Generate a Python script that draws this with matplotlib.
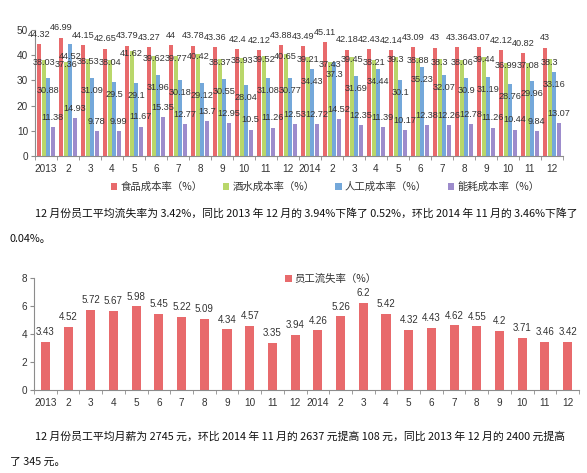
import matplotlib
matplotlib.use("Agg")
import matplotlib.pyplot as plt
import numpy as np
from matplotlib.patches import Patch

plt.rcParams['font.family'] = ['Noto Sans CJK SC', 'DejaVu Sans']

months = ["2013", "2", "3", "4", "5", "6", "7", "8", "9", "10", "11", "12",
          "2014", "2", "3", "4", "5", "6", "7", "8", "9", "10", "11", "12"]

food = [44.32, 46.99, 44.15, 42.65, 43.79, 43.27, 44, 43.78, 43.36, 42.4, 42.12, 43.88,
        43.49, 45.11, 42.18, 42.43, 42.14, 43.09, 43, 43.36, 43.07, 42.12, 40.82, 43]
drinks = [38.03, 37.36, 38.53, 38.04, 41.62, 39.62, 39.77, 40.42, 38.37, 38.93, 39.52, 40.65,
          39.21, 37.43, 39.45, 38.21, 39.3, 38.88, 38.3, 38.06, 39.44, 36.99, 37.08, 38.3]
labor = [30.88, 44.52, 31.09, 29.5, 29.1, 31.96, 30.18, 29.12, 30.55, 28.04, 31.08, 30.77,
         34.43, 37.3, 31.69, 34.44, 30.1, 35.23, 32.07, 30.9, 31.19, 28.76, 29.96, 33.16]
energy = [11.38, 14.93, 9.78, 9.99, 11.67, 15.35, 12.77, 13.7, 12.95, 10.5, 11.26, 12.53,
          12.72, 14.52, 12.35, 11.39, 10.17, 12.38, 12.26, 12.78, 11.26, 10.44, 9.84, 13.07]
series_names = ["食品成本率（%）", "酒水成本率（%）", "人工成本率（%）", "能耗成本率（%）"]

turnover = [3.43, 4.52, 5.72, 5.67, 5.98, 5.45, 5.22, 5.09, 4.34, 4.57, 3.35, 3.94,
            4.26, 5.26, 6.2, 5.42, 4.32, 4.43, 4.62, 4.55, 4.2, 3.71, 3.46, 3.42]
turnover_name = "员工流失率（%）"

text1_l1 = "12 月份员工平均流失率为 3.42%，同比 2013 年 12 月的 3.94%下降了 0.52%，环比 2014 年 11 月的 3.46%下降了"
text1_l2 = "0.04%。"
text2_l1 = "12 月份员工平均月薪为 2745 元，环比 2014 年 11 月的 2637 元提高 108 元，同比 2013 年 12 月的 2400 元提高"
text2_l2 = "了 345 元。"

W, H = 587, 473
fig = plt.figure(figsize=(W / 100, H / 100), dpi=100)
fig.patch.set_facecolor("white")

def px_axes(left, top, right, bottom):
    return fig.add_axes([left / W, 1 - bottom / H, (right - left) / W, (bottom - top) / H])

colors = ["#e86a6c", "#b9d76a", "#74a8da", "#9d8ccc"]
label_color = "#333333"
axis_color = "#8c8c8c"
num_font = ["Liberation Sans", "DejaVu Sans"]

def style_axes(ax, n):
    for s in ["top", "right"]:
        ax.spines[s].set_visible(False)
    for s in ["left", "bottom"]:
        ax.spines[s].set_color(axis_color)
        ax.spines[s].set_linewidth(0.8)
    ax.set_xlim(-0.5, n - 0.5)
    ax.set_xticks(np.arange(n))
    ax.set_xticklabels(months, family=num_font)
    ax.set_xticks(np.arange(n + 1) - 0.5, minor=True)
    ax.tick_params(axis="x", which="major", length=0, pad=6, labelsize=7.2, colors=label_color)
    ax.tick_params(axis="x", which="minor", length=3, color=axis_color, direction="out")
    ax.tick_params(axis="y", length=3, color=axis_color, labelsize=7.2, colors=label_color, pad=2)
    for t in ax.get_yticklabels():
        t.set_family(num_font)
    ax.set_facecolor("white")

# ---- Chart 1 ----
n = len(months)
x = np.arange(n)
ax1 = px_axes(35, 30, 563, 156)
ax1.set_ylim(0, 50)
ax1.set_yticks([0, 10, 20, 30, 40, 50])
style_axes(ax1, n)
bw = 0.2
step = 0.205
data = [food, drinks, labor, energy]
offsets = [7, -2, -9, 7]
for i, (vals, c) in enumerate(zip(data, colors)):
    xs = x + (i - 1.5) * step
    ax1.bar(xs, vals, width=bw, color=c, edgecolor="none")
    for xv, v in zip(xs, vals):
        ax1.annotate(f"{v:g}", (xv, v), xytext=(0, offsets[i]), textcoords="offset points",
                     ha="center", va="center", fontsize=6.6, color=label_color,
                     family=num_font, annotation_clip=False)

handles = [Patch(facecolor=c, edgecolor="none") for c in colors]
fig.legend(handles, series_names, loc="center", bbox_to_anchor=(325 / W, 1 - 187 / H),
           ncol=4, frameon=False, fontsize=7.5, handlelength=0.6, handleheight=0.6,
           handletextpad=0.3, columnspacing=2.0, labelcolor=label_color)

# ---- Text paragraphs ----
fs_text = 7.8
fig.text(35 / W, 1 - 213 / H, text1_l1, fontsize=fs_text, va="center", ha="left", color="#111111")
fig.text(10 / W, 1 - 239 / H, text1_l2, fontsize=fs_text, va="center", ha="left", color="#111111")
fig.text(35 / W, 1 - 437 / H, text2_l1, fontsize=fs_text, va="center", ha="left", color="#111111")
fig.text(10 / W, 1 - 462 / H, text2_l2, fontsize=fs_text, va="center", ha="left", color="#111111")

# ---- Chart 2 ----
ax2 = px_axes(34, 278, 579, 390)
ax2.set_ylim(0, 8)
ax2.set_yticks([0, 2, 4, 6, 8])
style_axes(ax2, n)
ax2.bar(x, turnover, width=0.4, color=colors[0], edgecolor="none")
for xv, v in zip(x, turnover):
    ax2.annotate(f"{v:g}", (xv, v), xytext=(0, 7), textcoords="offset points",
                 ha="center", va="center", fontsize=7, color=label_color,
                 family=num_font, annotation_clip=False)
fig.legend([Patch(facecolor=colors[0], edgecolor="none")], [turnover_name], loc="center left",
           bbox_to_anchor=(276 / W, 1 - 279 / H), frameon=False, fontsize=7.5,
           handlelength=0.6, handleheight=0.6, handletextpad=0.3, labelcolor=label_color)

fig.savefig("out.png", dpi=100, facecolor="white")
